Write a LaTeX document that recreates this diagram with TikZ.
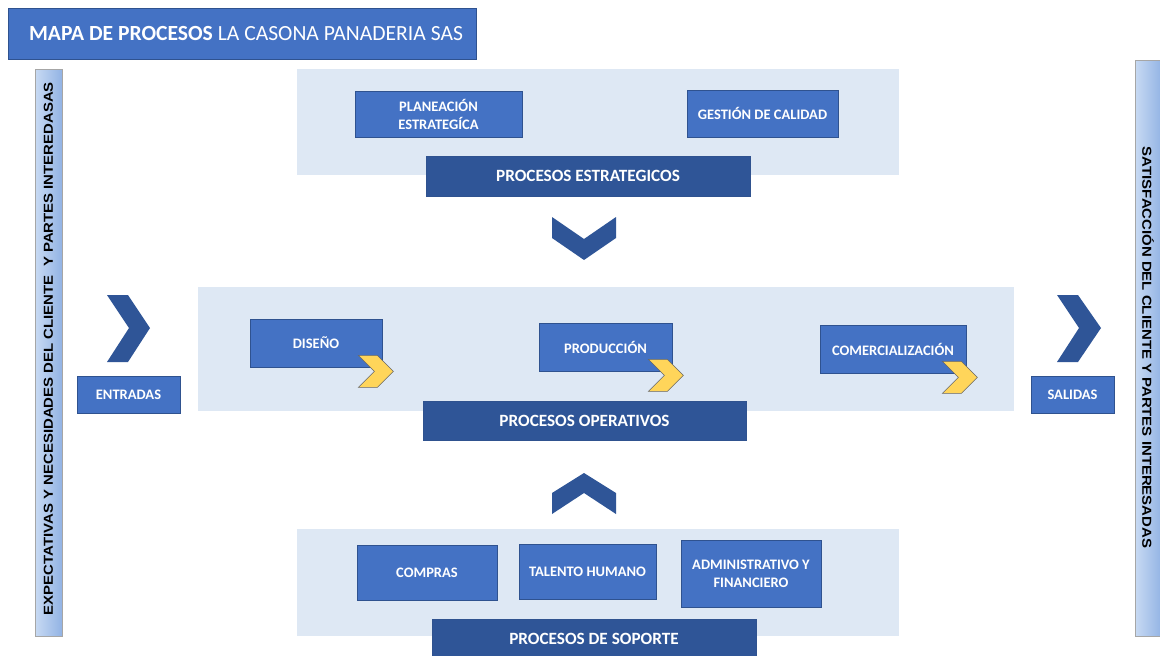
\documentclass[tikz,border=0pt]{standalone}
\usepackage{fontspec}
\setmainfont{Carlito}
\newfontfamily\arialf{Liberation Sans}
\definecolor{boxblue}{HTML}{4472C4}
\definecolor{boxedge}{HTML}{2F528F}
\definecolor{darkbar}{HTML}{2F5597}
\definecolor{panelc}{HTML}{DEE8F4}
\definecolor{goldc}{HTML}{FFD55A}
\definecolor{sidel}{HTML}{C8DAF3}
\definecolor{sider}{HTML}{92B3E4}
\begin{document}
\begin{tikzpicture}[x=1pt,y=-1pt,
  panel/.style={fill=panelc, draw=none, inner sep=0pt},
  proc/.style={draw=boxedge, fill=boxblue, text=white, line width=0.8pt,
    font=\bfseries\fontsize{14.5}{18}\selectfont, align=center, inner sep=0pt},
  bar/.style={draw=boxedge, fill=darkbar, text=white, line width=0.8pt,
    font=\bfseries\fontsize{17.2}{20}\selectfont, inner sep=0pt},
  sidebar/.style={draw=gray!70, line width=0.6pt, left color=sidel, right color=sider, inner sep=0pt},
  sidetext/.style={font=\arialf\bfseries\fontsize{13}{15}\selectfont, text=black, inner sep=0pt},
  bluechev/.style={fill=darkbar, draw=none},
  goldchev/.style={fill=goldc, draw=gray!80!black, line width=0.6pt, line join=miter}
]
\useasboundingbox (0,0) rectangle (1160,656);
\fill[white] (0,0) rectangle (1160,656);

% title
\node[draw=boxedge, fill=boxblue, text=white, line width=0.8pt, inner sep=0pt,
  minimum width=468, minimum height=51, font=\fontsize{21.6}{26}\selectfont] (title) at (242,33.5)
  {\hspace*{8pt}\textbf{MAPA DE PROCESOS} LA CASONA PANADERIA SAS};

% side bars
\node[sidebar, minimum width=27, minimum height=567] (lbar) at (48.5,352.5) {};
\node[rotate=90, xscale=1.15, sidetext] (ltext) at (48.5,348.5) {EXPECTATIVAS Y NECESIDADES DEL CLIENTE \ Y PARTES INTEREDASAS};
\node[sidebar, minimum width=27, minimum height=576] (rbar) at (1148.5,348) {};
\node[rotate=-90, xscale=1.15, sidetext] (rtext) at (1148,347.5) {SATISFACCIÓN DEL CLIENTE Y PARTES INTERESADAS};

% panels
\node[panel, minimum width=602, minimum height=106] (toppanel) at (598,122) {};
\node[panel, minimum width=816, minimum height=124] (midpanel) at (606,349) {};
\node[panel, minimum width=602, minimum height=107] (botpanel) at (598,582.5) {};

% strategic
\node[proc, minimum width=167, minimum height=46] (plan) at (438.5,114) {PLANEACIÓN\\ESTRATEGÍCA};
\node[proc, minimum width=151, minimum height=47] (gest) at (762.5,113.5) {GESTIÓN DE CALIDAD};
\node[bar, minimum width=324, minimum height=40] (estr) at (588,176) {PROCESOS ESTRATEGICOS};

% operative
\node[proc, minimum width=132, minimum height=48] (diseno) at (316,343) {DISEÑO};
\node[proc, minimum width=133, minimum height=48] (prod) at (605.5,347) {PRODUCCIÓN};
\node[proc, minimum width=146, minimum height=48] (comer) at (893,349) {COMERCIALIZACIÓN};
\node[bar, minimum width=323, minimum height=39] (oper) at (584.5,420.5) {PROCESOS OPERATIVOS};

\foreach \n in {diseno,prod,comer}{
  \draw[goldchev, shift={(\n.south east)}] (-24,-12) -- (-5,-12) -- (11,4) -- (-5,20) -- (-24,20) -- (-8,4) -- cycle;
}

% inputs / outputs
\node[proc, minimum width=103, minimum height=37] (entradas) at (128.5,394.5) {ENTRADAS};
\node[proc, minimum width=83, minimum height=37] (salidas) at (1072.5,394.5) {SALIDAS};
\fill[bluechev] (107,295) -- (128,295) -- (150,328) -- (128,362) -- (107,362) -- (129,328) -- cycle;
\fill[bluechev] (1057,295) -- (1078,295) -- (1101,328) -- (1078,362) -- (1057,362) -- (1079,328) -- cycle;

% vertical chevrons
\fill[bluechev] (552,217) -- (584,239) -- (616,217) -- (616,238) -- (584,260) -- (552,238) -- cycle;
\fill[bluechev] (584,473) -- (616,493) -- (616,514) -- (584,493) -- (552,514) -- (552,493) -- cycle;

% support
\node[proc, minimum width=140, minimum height=55] (compras) at (427,572.5) {COMPRAS};
\node[proc, minimum width=137, minimum height=55] (talento) at (587.5,571.5) {TALENTO HUMANO};
\node[proc, minimum width=140, minimum height=67] (admin) at (751,573.5) {ADMINISTRATIVO Y\\FINANCIERO};
\node[bar, minimum width=324, minimum height=39] (soporte) at (594,638.5) {PROCESOS DE SOPORTE};
\end{tikzpicture}
\end{document}
